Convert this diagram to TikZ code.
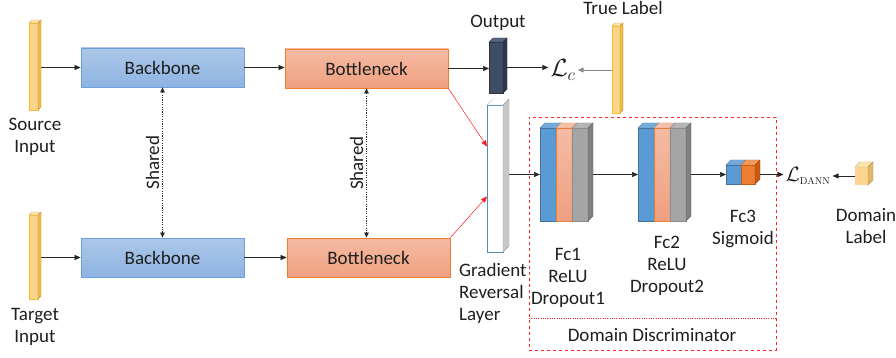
\documentclass[tikz,border=0pt]{standalone}
\usepackage[no-math]{fontspec}
\setmainfont{Carlito}
\usetikzlibrary{arrows.meta}
\DeclareMathSizes{24}{24}{16}{12}
\DeclareMathSizes{22}{22}{10}{8}
\definecolor{txt}{HTML}{1E1E1E}
\definecolor{yfront}{HTML}{FBD58A}
\definecolor{ygold}{HTML}{F6BD23}
\definecolor{yside}{HTML}{F0BA45}
\definecolor{ytop}{HTML}{FCE3A8}
\definecolor{bbtop}{HTML}{ADC8E8}
\definecolor{bbbot}{HTML}{8DB3E2}
\definecolor{bbdraw}{HTML}{6E9FDA}
\definecolor{bntop}{HTML}{F5BBA2}
\definecolor{bnbot}{HTML}{EFA080}
\definecolor{bndraw}{HTML}{ED7D31}
\definecolor{outfront}{HTML}{3E4D66}
\definecolor{outside}{HTML}{2C3749}
\definecolor{outtop}{HTML}{56647C}
\definecolor{grlblue}{HTML}{5A8AC0}
\definecolor{grlside}{HTML}{C8C8C8}
\definecolor{grltop}{HTML}{FFFFFF}
\definecolor{lblue}{HTML}{5B9BD5}
\definecolor{lbluedraw}{HTML}{41719C}
\definecolor{lbluetop}{HTML}{74ABDD}
\definecolor{lsalm}{HTML}{F2AE8D}
\definecolor{lsalmtop}{HTML}{F6C1A6}
\definecolor{lgray}{HTML}{A5A5A5}
\definecolor{lgrayside}{HTML}{808080}
\definecolor{lgraytop}{HTML}{B5B5B5}
\definecolor{lorange}{HTML}{ED7D31}
\definecolor{lorangeside}{HTML}{C55A11}
\definecolor{lorangetop}{HTML}{F29A5E}
\definecolor{dlfront}{HTML}{FCD690}
\definecolor{dlside}{HTML}{E2B76C}
\definecolor{dltop}{HTML}{FDE3AE}
\newcommand\cubebox[8]{%
  \node[inner sep=0pt, outer sep=0pt, minimum width=#3, minimum height=#4, #6] (#1) at #2 {};
  \path[fill=#8, draw=#8!80!black, line width=0.4pt] (#1.north west) -- ++(#5,-#5) -- ([shift={(#5,-#5)}]#1.north east) -- (#1.north east) -- cycle;
  \path[fill=#7, draw=#7!80!black, line width=0.4pt] (#1.north east) -- ++(#5,-#5) -- ([shift={(#5,-#5)}]#1.south east) -- (#1.south east) -- cycle;
}
\begin{document}
\begin{tikzpicture}[x=1pt,y=-1pt,
  every node/.style={text=txt},
  font=\fontsize{19}{22}\selectfont,
  arr/.style={-{Triangle[length=6pt,width=5pt]}, line width=0.6pt, draw=black!85},
  arrg/.style={-{Triangle[length=6pt,width=5pt]}, line width=0.9pt, draw=black!45},
  arrr/.style={-{Triangle[length=6pt,width=5pt]}, line width=0.5pt, draw=red!90},
  sharedarr/.style={{Triangle[length=5pt,width=4.5pt]}-{Triangle[length=5pt,width=4.5pt]}, line width=0.6pt, draw=black!85, dash pattern=on 1.2pt off 1.2pt},
  bbbox/.style={draw=bbdraw, line width=0.8pt, top color=bbtop, bottom color=bbbot, minimum width=163pt, minimum height=39pt, inner sep=0pt},
  bnbox/.style={draw=bndraw, line width=0.8pt, top color=bntop, bottom color=bnbot, minimum width=163pt, minimum height=39pt, inner sep=0pt},
  lbl/.style={align=center, inner sep=0pt}
]
\useasboundingbox (0,0) rectangle (896,358);

% input bars
\cubebox{src}{(33.5,66.5)}{9pt}{87pt}{3}{draw=ygold, line width=0.8pt, fill=yfront}{yside}{ytop}
\cubebox{tgt}{(33.5,257)}{9pt}{84pt}{3}{draw=ygold, line width=0.8pt, fill=yfront}{yside}{ytop}
\node[lbl] (srct) at (35,137) {Source\\Input};
\node[lbl] (tgtt) at (35,327) {Target\\Input};

% backbones and bottlenecks
\node[bbbox] (bb1) at (162.5,67.5) {Backbone};
\node[bbbox] (bb2) at (162.5,257.5) {Backbone};
\node[bnbox] (bn1) at (366.5,68.5) {Bottleneck};
\node[bnbox] (bn2) at (368.5,257.5) {Bottleneck};

% output and true label
\cubebox{out}{(496,67.5)}{14pt}{51pt}{4}{draw=black!80, line width=0.6pt, fill=outfront}{outside}{outtop}
\node[lbl] (outt) at (498,23) {Output};
\cubebox{tl}{(616,69.5)}{8pt}{87pt}{3}{draw=ygold, line width=0.8pt, fill=yfront}{yside}{ytop}
\node[lbl] (tlt) at (623,8) {True Label};
\node[inner sep=2pt] (Lc) at (563,70) {\fontsize{24}{28}\selectfont$\mathcal{L}_c$};

% gradient reversal layer
\cubebox{grl}{(495,178.5)}{16pt}{147pt}{6}{draw=grlblue, line width=0.8pt, fill=white}{grlside}{grltop}
\node[align=left, inner sep=0pt, anchor=west] (grlt) at (459,293) {Gradient\\Reversal\\Layer};

% domain discriminator frame
\node[draw=red!85, dashed, line width=0.8pt, minimum width=247pt, minimum height=233pt, inner sep=0pt] (dd) at (652.5,233.5) {};
\coordinate (divL) at (529,318);
\coordinate (divR) at (776,318);
\draw[red!85, line width=0.8pt, dash pattern=on 1pt off 1.3pt] (divL) -- (divR);
\node[lbl] (ddt) at (652,335) {Domain Discriminator};

% Fc1
\cubebox{fc1a}{(548,174.5)}{16pt}{93pt}{5}{draw=lbluedraw, line width=0.6pt, fill=lblue}{lblue}{lbluetop}
\cubebox{fc1b}{(564,174.5)}{16pt}{93pt}{5}{draw=bndraw, line width=0.6pt, top color=bntop, bottom color=bnbot}{lsalm}{lsalmtop}
\cubebox{fc1c}{(580,174.5)}{16pt}{93pt}{5}{draw=black!45, line width=0.6pt, fill=lgray}{lgrayside}{lgraytop}
\node[lbl] (fc1t) at (568,278) {Fc1\\ReLU\\Dropout1};
% Fc2
\cubebox{fc2a}{(646,174.5)}{16pt}{93pt}{5}{draw=lbluedraw, line width=0.6pt, fill=lblue}{lblue}{lbluetop}
\cubebox{fc2b}{(662,174.5)}{16pt}{93pt}{5}{draw=bndraw, line width=0.6pt, top color=bntop, bottom color=bnbot}{lsalm}{lsalmtop}
\cubebox{fc2c}{(678,174.5)}{16pt}{93pt}{5}{draw=black!45, line width=0.6pt, fill=lgray}{lgrayside}{lgraytop}
\node[lbl] (fc2t) at (667,266) {Fc2\\ReLU\\Dropout2};
% Fc3
\cubebox{fc3a}{(733.5,174.5)}{15pt}{19pt}{5}{draw=lbluedraw, line width=0.6pt, fill=lblue}{lblue}{lbluetop}
\cubebox{fc3b}{(748,174.5)}{14pt}{19pt}{5}{draw=lorangeside, line width=0.6pt, fill=lorange}{lorangeside}{lorangetop}
\node[lbl] (fc3t) at (743,229) {Fc3\\Sigmoid};

% DANN loss and domain label
\node[inner sep=2pt] (Ld) at (808,176) {\fontsize{22}{26}\selectfont$\mathcal{L}_{\mathrm{DANN}}$};
\cubebox{dl}{(861.5,176)}{13pt}{18pt}{5}{fill=dlfront}{dlside}{dltop}
\node[lbl] (dlt) at (866,226) {Domain\\Label};

% connectors
\draw[arr] ([xshift=3pt]src.east |- bb1.west) -- (bb1.west);
\draw[arr] ([xshift=3pt]tgt.east |- bb2.west) -- (bb2.west);
\draw[arr] (bb1.east) -- (bb1.east -| bn1.west);
\draw[arr] (bb2.east) -- (bb2.east -| bn2.west);
\draw[arr] (bn1.east) -- (bn1.east -| out.west);
\draw[arr] ([xshift=4pt]out.east) -- (out.east -| Lc.west);
\draw[arrg] (tl.west |- Lc.east) -- (Lc.east);
\draw[sharedarr] (bb1.south) -- (bb2.north) node[midway, left=3pt, rotate=90, anchor=south, inner sep=0pt] (sh1) {Shared};
\draw[sharedarr] (bn1.south) -- (bn1.south |- bn2.north) node[midway, left=3pt, rotate=90, anchor=south, inner sep=0pt] (sh2) {Shared};
\draw[arrr] (bn1.south east) -- ([yshift=32pt]grl.west);
\draw[arrr] (bn2.north east) -- ([yshift=-18pt]grl.west);
\draw[arr] ([xshift=6pt]grl.east |- fc1a.west) -- (fc1a.west);
\draw[arr] ([xshift=5pt]fc1c.east) -- (fc2a.west);
\draw[arr] ([xshift=5pt]fc2c.east) -- (fc3a.west);
\draw[arr] ([xshift=5pt]fc3b.east) -- (fc3b.east -| Ld.west);
\draw[arr] (dl.west) -- (dl.west -| Ld.east);
\end{tikzpicture}
\end{document}
